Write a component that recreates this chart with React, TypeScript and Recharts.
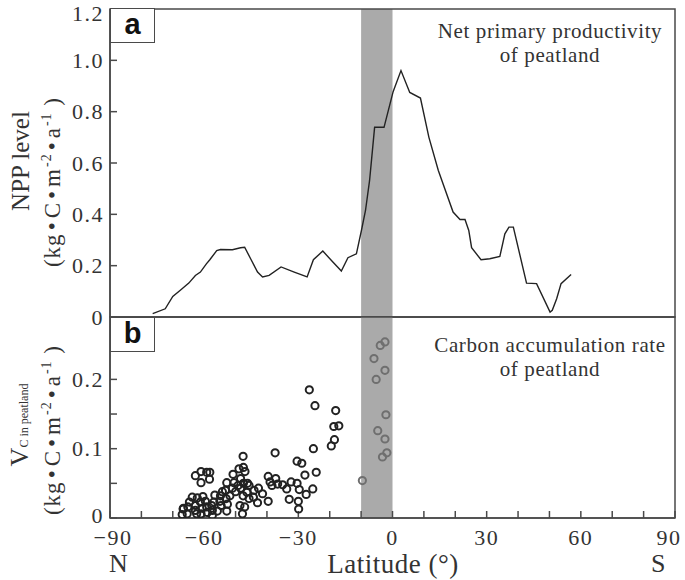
import React from "react";
import {ComposedChart, Line, Scatter, XAxis, YAxis, ReferenceArea} from "recharts";

// latitude (deg) and NPP (kg C m-2 a-1) along the curve
const nppLat = [-76.4, -72.4, -70.0, -67.6, -64.9, -62.8, -61.2, -59.3, -58.2, -56.0, -54.8, -51.0, -48.4, -47.1,
    -45.2, -43.0, -41.4, -39.3, -35.5, -31.3, -27.2, -25.2, -22.2, -19.0, -16.3, -14.2, -11.5, -9.9, -8.6, -7.3,
    -5.7, -2.7, 0.2, 2.7, 5.5, 8.9, 11.6, 14.6, 19.3, 21.5, 23.1, 24.3, 25.2, 28.2, 31.0, 34.2, 35.8, 37.1, 38.5,
    42.7, 45.9, 50.2, 50.9, 52.3, 53.7, 56.9];
const nppVal = [0.013, 0.032, 0.08, 0.104, 0.132, 0.162, 0.175, 0.207, 0.223, 0.259, 0.263, 0.262, 0.27, 0.272,
    0.227, 0.175, 0.156, 0.162, 0.195, 0.175, 0.156, 0.223, 0.257, 0.214, 0.179, 0.231, 0.246, 0.337, 0.415, 0.532,
    0.739, 0.739, 0.878, 0.96, 0.875, 0.853, 0.70, 0.571, 0.409, 0.38, 0.38, 0.337, 0.27, 0.223, 0.227, 0.236, 0.324,
    0.35, 0.35, 0.132, 0.13, 0.019, 0.026, 0.071, 0.13, 0.166];

// carbon accumulation rate, sites outside the band
const vcLat = [-26.5, -24.7, -18.1, -18.7, -17.1, -18.5, -19.5, -25.2, -24.3, -25.4, -37.4, -30.4, -28.9, -27.9,
    -27.5, -30.0, -29.9, -30.4, -29.7, -32.3, -33.7, -32.9, -35.0, -36.6, -37.2, -39.6, -39.0, -38.4, -39.6, -41.4,
    -42.7, -44.1, -43.0, -44.3, -45.7, -45.7, -46.4, -47.6, -48.9, -47.5, -47.0, -48.4, -47.5, -46.2, -48.4, -47.6,
    -48.6, -47.1, -47.8, -49.2, -50.0, -50.8, -50.5, -51.0, -51.8, -52.8, -53.2, -53.0, -52.6, -52.8, -54.2, -54.8,
    -55.0, -55.8, -54.6, -56.6, -56.9, -57.4, -57.4, -57.6, -58.3, -59.2, -61.0, -61.0, -62.8, -59.2, -59.0, -59.6,
    -60.4, -61.2, -60.6, -61.0, -62.2, -62.8, -62.4, -62.8, -63.8, -64.7, -65.4, -66.7, -67.0, -65.2, -58.2, -66.6];
const vcVal = [0.185, 0.162, 0.155, 0.132, 0.133, 0.113, 0.104, 0.100, 0.066, 0.042, 0.094, 0.082, 0.079, 0.062,
    0.034, 0.024, 0.013, 0.050, 0.041, 0.052, 0.042, 0.027, 0.048, 0.049, 0.057, 0.060, 0.052, 0.047, 0.024, 0.035,
    0.043, 0.040, 0.022, 0.030, 0.028, 0.047, 0.037, 0.089, 0.071, 0.073, 0.067, 0.057, 0.050, 0.050, 0.043, 0.032,
    0.018, 0.016, 0.006, 0.047, 0.038, 0.063, 0.051, 0.043, 0.032, 0.051, 0.040, 0.028, 0.020, 0.010, 0.038, 0.032,
    0.024, 0.010, 0.018, 0.033, 0.023, 0.011, 0.004, 0.018, 0.056, 0.066, 0.067, 0.051, 0.061, 0.016, 0.008, 0.024,
    0.031, 0.023, 0.014, 0.006, 0.029, 0.018, 0.006, 0.011, 0.030, 0.023, 0.006, 0.013, 0.005, 0.016, 0.066, 0.014];

// sites inside the shaded band
const bandLat = [-9.6, -5.9, -5.2, -4.7, -3.9, -2.4, -2.4, -2.1, -2.4, -3.2, -1.8];
const bandVal = [0.054, 0.23, 0.20, 0.126, 0.249, 0.254, 0.213, 0.149, 0.114, 0.088, 0.094];

const latTicks = [-90, -80, -70, -60, -50, -40, -30, -20, -10, 0, 10, 20, 30, 40, 50, 60, 70, 80, 90];
const nppTicks = [0, 0.2, 0.4, 0.6, 0.8, 1.0, 1.2];
const vcTicks = [0, 0.05, 0.1, 0.15, 0.2, 0.25];
const shadeFrom = -10;
const shadeTo = 0;

const nppRows = nppLat.map((lat, i) => ({lat, v: nppVal[i]}));
const vcRows = vcLat.map((lat, i) => ({lat, v: vcVal[i]}));
const bandRows = bandLat.map((lat, i) => ({lat, v: bandVal[i]}));

const serif = "'Liberation Serif', 'Times New Roman', serif";
const ink = "#333";
const frame = "#4a4a4a";
const tickFont = {fontFamily: serif, fontSize: 22, fill: ink, letterSpacing: 1.5};

const fmtNpp = (v: number) => (v === 0 ? "0" : v.toFixed(1));

// labels only every 30 degrees, last one pulled in so it stays on the page
const LatTick = (p: any) => {
    const v = p.payload.value;
    if (v % 30 !== 0) return null;
    const label = v < 0 ? "\u2212" + Math.abs(v) : String(v);
    const x = v === 90 ? p.x - 6 : v === -90 ? p.x + 3 : p.x;
    return (
        <text x={x} y={p.y} dy="0.72em" textAnchor="middle" {...tickFont}>{label}</text>
    );
};

// only 0, 0.1, 0.2 get a label; 0 sits a little high to clear the x labels
const VcTick = (p: any) => {
    const v = p.payload.value;
    const major = Math.abs(v * 10 - Math.round(v * 10)) < 1e-6;
    if (!major) return null;
    return (
        <text x={p.x} y={v === 0 ? p.y - 3 : p.y} dy="0.35em" textAnchor="end" {...tickFont}>
            {v === 0 ? "0" : v.toFixed(1)}
        </text>
    );
};

const ring = (color: string) => (p: any) => (
    <circle cx={p.cx} cy={p.cy} r={3.6} fill="none" stroke={color} strokeWidth={2}/>
);

const dotSep = <span style={{margin: "0 3px"}}>•</span>;
const sup = {fontSize: 14, verticalAlign: "9px", marginLeft: 1} as React.CSSProperties;
const Unit = () => (
    <span style={{letterSpacing: 1}}>(kg{dotSep}C{dotSep}m<span style={sup}>-2</span>{dotSep}a<span style={sup}>-1</span> )</span>
);

const vText = (x: number, y: number, size: number): React.CSSProperties => ({
    position: "absolute", left: x, top: y, transform: "translate(-50%, -50%) rotate(-90deg)",
    whiteSpace: "nowrap", fontFamily: serif, fontSize: size, color: ink, lineHeight: 1,
});

const tag: React.CSSProperties = {
    position: "absolute", left: 110, width: 45, height: 35, boxSizing: "border-box",
    border: `1.5px solid ${frame}`, background: "#fff", fontFamily: "'Liberation Sans', Arial, sans-serif",
    fontWeight: "bold", fontSize: 29, lineHeight: "30px", textAlign: "center", color: "#111",
};

const note: React.CSSProperties = {
    position: "absolute", left: 425, width: 250, textAlign: "center", fontFamily: serif,
    fontSize: 21, color: ink, lineHeight: "24px", letterSpacing: 0.6,
};

export default function App() {
    return (
        <div style={{position: "absolute", left: 0, top: 0, width: 685, height: 580, background: "#fff", overflow: "hidden"}}>
            <div style={{position: "absolute", left: 0, top: 0}}>
                <ComposedChart width={685} height={330} data={nppRows}
                               margin={{top: 9, right: 10, bottom: 0, left: 0}}>
                    <ReferenceArea x1={shadeFrom} x2={shadeTo} fill="#aaaaaa" fillOpacity={1} stroke="none"/>
                    <XAxis dataKey="lat" type="number" domain={[-90, 90]} ticks={latTicks} height={13}
                           tick={false} tickSize={-7} stroke={frame} strokeWidth={1.5}
                           allowDataOverflow/>
                    <YAxis type="number" domain={[0, 1.2]} ticks={nppTicks} width={110} tickSize={-7}
                           tickMargin={13} tickFormatter={fmtNpp} tick={tickFont} stroke={frame}
                           strokeWidth={1.5} allowDataOverflow/>
                    <Line dataKey="v" type="linear" stroke="#222" strokeWidth={1.4} dot={false}
                          isAnimationActive={false}/>
                    <ReferenceArea x1={-90} x2={90} fill="none" stroke={frame} strokeWidth={1.5}/>
                </ComposedChart>
            </div>
            <div style={{position: "absolute", left: 0, top: 300}}>
                <ComposedChart width={685} height={280} margin={{top: 17, right: 10, bottom: 0, left: 0}}>
                    <ReferenceArea x1={shadeFrom} x2={shadeTo} fill="#aaaaaa" fillOpacity={1} stroke="none"/>
                    <XAxis dataKey="lat" type="number" domain={[-90, 90]} ticks={latTicks} height={62}
                           tickSize={-7} tickMargin={18} interval={0} tick={<LatTick/>}
                           stroke={frame} strokeWidth={1.5} allowDataOverflow/>
                    <YAxis dataKey="v" type="number" domain={[0, 0.29]} ticks={vcTicks} width={110} tickSize={-7}
                           tickMargin={13} interval={0} tick={<VcTick/>} stroke={frame}
                           strokeWidth={1.5} allowDataOverflow/>
                    <Scatter data={vcRows} dataKey="v" shape={ring("#222")} isAnimationActive={false}/>
                    <Scatter data={bandRows} dataKey="v" shape={ring("#6f6f6f")} isAnimationActive={false}/>
                    <ReferenceArea x1={-90} x2={90} fill="none" stroke={frame} strokeWidth={1.5}/>
                </ComposedChart>
            </div>

            <div style={{...tag, top: 8}}>a</div>
            <div style={{...tag, top: 317}}>b</div>

            <div style={{...note, top: 19}}>Net primary productivity<br/>of peatland</div>
            <div style={{...note, top: 333}}>Carbon accumulation rate<br/>of peatland</div>

            <div style={vText(20, 161, 25)}>NPP level</div>
            <div style={vText(52, 182, 23)}><Unit/></div>
            <div style={vText(20, 425, 26)}>
                V<span style={{fontSize: 12}}>C in peatland</span>
            </div>
            <div style={vText(52, 430, 23)}><Unit/></div>

            <div style={{position: "absolute", left: 109, top: 549, fontFamily: serif, fontSize: 26, color: ink}}>N</div>
            <div style={{position: "absolute", left: 651, top: 549, fontFamily: serif, fontSize: 26, color: ink}}>S</div>
            <div style={{
                position: "absolute", left: 393, top: 564, transform: "translate(-50%, -50%)",
                fontFamily: serif, fontSize: 27, color: ink, whiteSpace: "nowrap", letterSpacing: 0.5,
            }}>Latitude (°)</div>
        </div>
    );
}
